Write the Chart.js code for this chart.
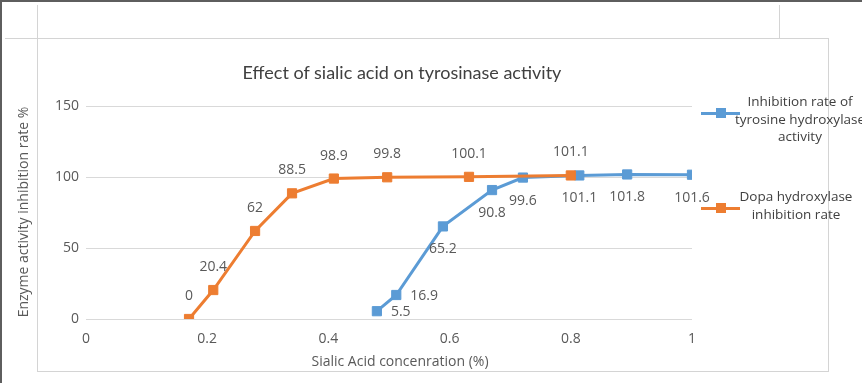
<!DOCTYPE html>
<html><head><meta charset="utf-8">
<script src="https://cdn.jsdelivr.net/npm/chart.js@4.4.1/dist/chart.umd.min.js"></script>
<style>
html,body{margin:0;padding:0;background:#fff;}
#wrap{position:relative;width:862px;height:383px;overflow:hidden;background:#fff;}
#c{position:absolute;left:0;top:0;}
.ln{position:absolute;background:#d4d4d4;}
.dk{position:absolute;background:#5e5e5e;}
.t{position:absolute;font-family:"Open Sans",sans-serif;font-size:14px;color:#595959;white-space:nowrap;line-height:17px;}
.leg{position:absolute;font-family:"Open Sans",sans-serif;font-size:13.5px;color:#404040;white-space:nowrap;line-height:17.5px;text-align:center;transform:translateX(-50%);}
.sw{position:absolute;height:3px;}
.sq{position:absolute;width:10px;height:10px;}
</style></head>
<body>
<div id="wrap">
  <canvas id="c" width="862" height="383" style="width:862px;height:383px"></canvas>
  <div class="dk" style="left:0;top:0;width:2px;height:383px"></div>
  <div class="dk" style="left:0;top:0;width:862px;height:2px"></div>
  <div class="ln" style="left:37px;top:5px;width:1px;height:366px"></div>
  <div class="ln" style="left:5px;top:38px;width:823px;height:1px"></div>
  <div class="ln" style="left:779px;top:5px;width:1px;height:33px"></div>
  <div class="ln" style="left:828px;top:38px;width:1px;height:334px"></div>
  <div class="ln" style="left:37px;top:371px;width:792px;height:1px"></div>

  <div id="title" style="position:absolute;left:402px;top:61px;transform:translateX(-50%);font-family:Lato,sans-serif;font-size:18px;line-height:22px;color:#404040;white-space:nowrap;">Effect of sialic acid on tyrosinase activity</div>
  <div class="t" style="left:22px;top:212px;transform:translate(-50%,-50%) rotate(-90deg);">Enzyme activity inhibition rate %</div>
  <div class="t" style="left:400px;top:360px;transform:translate(-50%,-50%);">Sialic Acid concenration (%)</div>

  <div class="sw" style="left:701px;top:112px;width:39px;background:#5B9BD5"></div>
  <div class="sq" style="left:716px;top:108px;background:#5B9BD5"></div>
  <div class="leg" style="left:800px;top:93px;">Inhibition rate of<br>tyrosine hydroxylase<br>activity</div>

  <div class="sw" style="left:701px;top:207px;width:39px;background:#ED7D31"></div>
  <div class="sq" style="left:716px;top:203px;background:#ED7D31"></div>
  <div class="leg" style="left:796px;top:188px;">Dopa hydroxylase<br>inhibition rate</div>
</div>
<script>
// ---- data ----
const dopaX = [0.17, 0.21, 0.279, 0.34, 0.409, 0.497, 0.632, 0.80];
const dopaY = [0, 20.4, 62, 88.5, 98.9, 99.8, 100.1, 101.1];
const tyrX  = [0.48, 0.512, 0.589, 0.67, 0.721, 0.814, 0.893, 1.0];
const tyrY  = [5.5, 16.9, 65.2, 90.8, 99.6, 101.1, 101.8, 101.6];
const xTickValues = [0, 0.2, 0.4, 0.6, 0.8, 1];
const yTickValues = [0, 50, 100, 150];
const seriesNames = ['Inhibition rate of tyrosine hydroxylase activity', 'Dopa hydroxylase inhibition rate'];

// ---- label placement (style) ----
const tyrLabelPlace = ['right','right','below','below','below','below','below','below'];

const labelPlugin = {
  id: 'pointLabels',
  afterDatasetsDraw(chart) {
    const ctx = chart.ctx;
    ctx.save();
    ctx.font = '14px "Open Sans", sans-serif';
    ctx.fillStyle = '#595959';
    ctx.textBaseline = 'middle';
    chart.data.datasets.forEach((ds, di) => {
      const meta = chart.getDatasetMeta(di);
      meta.data.forEach((pt, i) => {
        const txt = String(ds.data[i].y);
        if (ds.labelMode === 'above') {
          ctx.textAlign = 'center';
          ctx.fillText(txt, pt.x, pt.y - 23);
        } else {
          const p = tyrLabelPlace[i];
          if (p === 'right') { ctx.textAlign = 'left'; ctx.fillText(txt, pt.x + 14, pt.y + 1); }
          else { ctx.textAlign = 'center'; ctx.fillText(txt, pt.x, pt.y + 23); }
        }
      });
    });
    ctx.restore();
  }
};

const mk = (xs, ys) => xs.map((x, i) => ({x, y: ys[i]}));

new Chart(document.getElementById('c'), {
  type: 'scatter',
  data: {
    datasets: [
      { label: seriesNames[0], data: mk(tyrX, tyrY), showLine: true,
        borderColor: '#5B9BD5', backgroundColor: '#5B9BD5', borderWidth: 3,
        pointStyle: 'rect', pointRadius: 6.5, pointBorderWidth: 1,
        pointBackgroundColor: '#5B9BD5', pointBorderColor: '#5B9BD5', order: 1, labelMode: 'tyr' },
      { label: seriesNames[1], data: mk(dopaX, dopaY), showLine: true,
        borderColor: '#ED7D31', backgroundColor: '#ED7D31', borderWidth: 3,
        pointStyle: 'rect', pointRadius: 6.5, pointBorderWidth: 1,
        pointBackgroundColor: '#ED7D31', pointBorderColor: '#ED7D31', order: 0, labelMode: 'above' }
    ]
  },
  options: {
    responsive: false,
    animation: false,
    events: [],
    layout: { padding: { left: 30, right: 170, top: 106, bottom: 34 } },
    plugins: { legend: { display: false }, title: { display: false }, tooltip: { enabled: false } },
    scales: {
      x: {
        type: 'linear', min: 0, max: 1,
        afterBuildTicks: s => { s.ticks = xTickValues.map(v => ({ value: v })); },
        afterFit: s => { s.height = 30; },
        grid: { display: false, drawTicks: false },
        border: { display: false },
        ticks: { padding: 12, color: '#595959', font: { family: 'Open Sans', size: 14 },
                 callback: v => String(v), maxRotation: 0 }
      },
      y: {
        type: 'linear', min: 0, max: 150,
        afterBuildTicks: s => { s.ticks = yTickValues.map(v => ({ value: v })); },
        afterFit: s => { s.width = 56; },
        grid: { color: '#d9d9d9', lineWidth: 1, drawTicks: false },
        border: { display: false },
        ticks: { padding: 7, color: '#595959', font: { family: 'Open Sans', size: 14 },
                 callback: v => String(v) }
      }
    }
  },
  plugins: [labelPlugin]
});
</script>
</body></html>
